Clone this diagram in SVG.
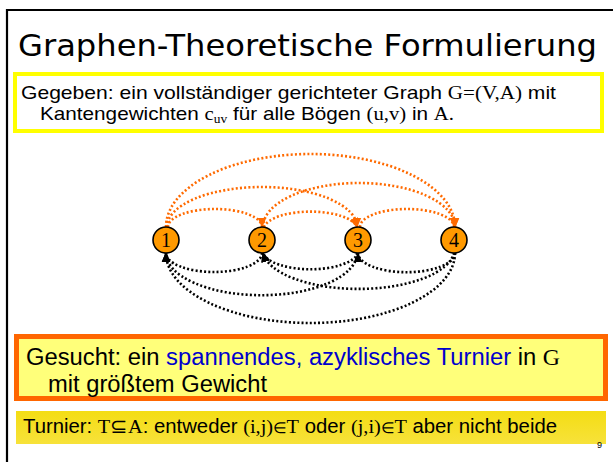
<svg xmlns="http://www.w3.org/2000/svg" width="613" height="462" viewBox="0 0 613 462">
<defs>
<style>
.sans{font-family:"Liberation Sans",Arial,sans-serif;fill:#000}
.serif{font-family:"Liberation Serif","Times New Roman",serif}
.blue{fill:#0000CC}
.node circle{fill:#FF9900;stroke:#000;stroke-width:1.6}
.node text{font-family:"Liberation Serif","Times New Roman",serif;font-size:20px;text-anchor:middle;fill:#000}
.top{fill:none;stroke:#FF6A00;stroke-width:2.6;stroke-dasharray:2 2.2;marker-end:url(#ao)}
.bot{fill:none;stroke:#000;stroke-width:2.6;stroke-dasharray:2 2.2;marker-end:url(#ab)}
</style>
<marker id="ao" markerUnits="userSpaceOnUse" markerWidth="10" markerHeight="10" viewBox="0 0 10 10" refX="9" refY="5" orient="auto"><path d="M0,0.8 L10,5 L0,9.2 z" fill="#FF6A00"/></marker>
<marker id="ab" markerUnits="userSpaceOnUse" markerWidth="10" markerHeight="10" viewBox="0 0 10 10" refX="9" refY="5" orient="auto"><path d="M0,0.8 L10,5 L0,9.2 z" fill="#000"/></marker>
<linearGradient id="tg" x1="0" y1="0" x2="0" y2="1"><stop offset="0" stop-color="#F4DD14"/><stop offset="1" stop-color="#F7E23A"/></linearGradient>
</defs>
<rect width="613" height="462" fill="#fff"/>
<path d="M7,462 V10 H613" fill="none" stroke="#000" stroke-width="2.2"/>
<text x="18" y="56" font-family="'DejaVu Sans',sans-serif" font-size="30" textLength="579" lengthAdjust="spacingAndGlyphs">Graphen-Theoretische Formulierung</text>
<g id="given">
<rect x="15" y="74" width="587" height="57" fill="#fff" stroke="#FFFF00" stroke-width="4"/>
<text class="sans" x="21" y="99" font-size="18.5" textLength="535" lengthAdjust="spacingAndGlyphs">Gegeben: ein vollständiger gerichteter Graph <tspan class="serif">G=(V,A)</tspan> mit</text>
<text class="sans" x="40" y="120" font-size="18.5" textLength="414" lengthAdjust="spacingAndGlyphs">Kantengewichten <tspan class="serif">c</tspan><tspan class="serif" font-size="12" dy="3">uv</tspan><tspan dy="-3"> für alle Bögen </tspan><tspan class="serif">(u,v)</tspan> in <tspan class="serif">A.</tspan></text>
</g>
<g id="connectors">
<path class="top" d="M168,227 A47,18 0 0 1 262,227"/>
<path class="top" d="M264,227 A47,18 0 0 1 357,227"/>
<path class="top" d="M360,227 A47,18 0 0 1 454,227"/>
<path class="top" d="M167,227 A95,40 0 0 1 357,227"/>
<path class="top" d="M263,227 A96,44 0 0 1 455,227"/>
<path class="top" d="M166,227 A144.5,73 0 0 1 455,227"/>
<path class="bot" d="M262,253 A48,19 0 0 1 166,253"/>
<path class="bot" d="M358,253 A48,19 0 0 1 263,253"/>
<path class="bot" d="M455,253 A48,19 0 0 1 358,253"/>
<path class="bot" d="M357,253 A95,42 0 0 1 166,253"/>
<path class="bot" d="M454,253 A96,40 0 0 1 263,253"/>
<path class="bot" d="M455,253 A144.5,70 0 0 1 166,253"/>
</g>
<g id="n1" class="node"><circle cx="166" cy="240" r="13"/><text x="166" y="247">1</text></g>
<g id="n2" class="node"><circle cx="262" cy="240" r="13"/><text x="262" y="247">2</text></g>
<g id="n3" class="node"><circle cx="358" cy="240" r="13"/><text x="358" y="247">3</text></g>
<g id="n4" class="node"><circle cx="454" cy="240" r="13"/><text x="454" y="247">4</text></g>
<g id="sought">
<rect x="16.5" y="336.5" width="589" height="62" fill="#FFFF7A" stroke="#FF6600" stroke-width="5"/>
<text class="sans" x="26" y="365" font-size="23" textLength="534" lengthAdjust="spacingAndGlyphs">Gesucht: ein <tspan class="blue">spannendes, azyklisches Turnier</tspan> in <tspan class="serif">G</tspan></text>
<text class="sans" x="48" y="392" font-size="23" textLength="219" lengthAdjust="spacingAndGlyphs">mit größtem Gewicht</text>
</g>
<g id="turnier">
<rect x="16" y="411" width="590" height="33" fill="url(#tg)"/>
<text class="sans" x="23" y="433" font-size="19.5" textLength="534" lengthAdjust="spacingAndGlyphs">Turnier: <tspan class="serif">T⊆A</tspan>: entweder <tspan class="serif">(i,j)<tspan font-size="15">∈</tspan>T</tspan> oder <tspan class="serif">(j,i)<tspan font-size="15">∈</tspan>T</tspan> aber nicht beide</text>
</g>
<text class="sans" x="597" y="448" font-size="9">9</text>
</svg>
